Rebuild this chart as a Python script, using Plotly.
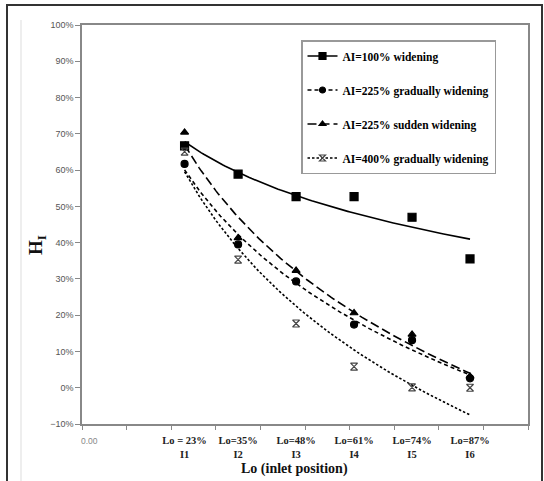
import numpy as np
import plotly.graph_objects as go

# ---- data ----
lo = [0.23, 0.35, 0.48, 0.61, 0.74, 0.87]
tick_text = ["Lo = 23%<br>I1", "Lo=35%<br>I2", "Lo=48%<br>I3",
             "Lo=61%<br>I4", "Lo=74%<br>I5", "Lo=87%<br>I6"]
ai100 = [0.667, 0.589, 0.527, 0.527, 0.470, 0.355]
ai225_grad = [0.617, 0.395, 0.293, 0.174, 0.131, 0.026]
ai225_sudden = [0.704, 0.413, 0.323, 0.206, 0.147, 0.031]
ai400_grad = [0.651, 0.353, 0.177, 0.058, 0.001, 0.000]

series = [
    ("AI=100% widening", ai100, "square", "solid", "black", 8),
    ("AI=225% gradually widening", ai225_grad, "circle", "4px,3px", "black", 7),
    ("AI=225% sudden widening", ai225_sudden, "triangle-up", "9px,4px", "black", 7),
    ("AI=400% gradually widening", ai400_grad, "hourglass-open", "2.5px,2px", "#444", 7),
]

serif = "Liberation Serif, Times New Roman, serif"
sans = "Liberation Sans, Arial, sans-serif"

fig = go.Figure()
xs = np.linspace(min(lo), max(lo), 120)
for i, (name, vals, sym, dash, col, ms) in enumerate(series):
    # logarithmic trendline fitted to the series (like Excel)
    a, b = np.polyfit(np.log(lo), vals, 1)
    fig.add_trace(go.Scatter(x=xs, y=a * np.log(xs) + b, mode="lines",
                             line=dict(color="black", width=1.6, dash=dash),
                             showlegend=False, hoverinfo="skip"))
    fig.add_trace(go.Scatter(x=lo, y=vals, mode="markers",
                             marker=dict(symbol=sym, size=ms, color=col,
                                         line=dict(color=col, width=1.2)),
                             showlegend=False))
    # legend entry
    fig.add_trace(go.Scatter(x=[None], y=[None], mode="lines+markers", name=name,
                             legendgroup=f"g{i}",
                             line=dict(color="black", width=1.6, dash=dash),
                             marker=dict(symbol=sym, size=ms - 1, color=col,
                                         line=dict(color=col, width=1.2))))

L, T, R, B = 82, 25, 528, 424      # plot area in window pixels
W, H = 544, 481                    # window
pw, ph = R - L, B - T

def px(x):
    return (x - L) / pw

def py(y):
    return 1 - (y - T) / ph

fig.update_layout(
    width=W, height=H,
    margin=dict(l=L, r=W - R, t=T, b=H - B, pad=0),
    paper_bgcolor="white", plot_bgcolor="white",
    showlegend=True,
    legend=dict(x=px(301), y=py(40), xanchor="left", yanchor="top",
                bgcolor="white", bordercolor="#999", borderwidth=1.5,
                font=dict(family=serif, size=11.5, color="black", weight="bold"),
                tracegroupgap=15, itemwidth=30),
    xaxis=dict(range=[0, 1.0], tickvals=lo, ticktext=tick_text,
               showgrid=False, zeroline=False,
               showline=True, linecolor="#888", linewidth=1.5, mirror=True,
               ticks="outside", ticklen=0, ticklabelstandoff=6,
               tickfont=dict(family=serif, size=10.5, color="#222", weight="bold"),
               minor=dict(ticks="outside", ticklen=4, tickcolor="#888",
                          dtick=0.1, tick0=0, showgrid=False)),
    yaxis=dict(range=[-0.1, 1.0], dtick=0.1, tick0=0, tickformat=".0%",
               showgrid=False, zeroline=False,
               showline=True, linecolor="#888", linewidth=1.5, mirror=True,
               ticks="outside", ticklen=5, tickcolor="#888",
               tickfont=dict(family=sans, size=9, color="#555")),
    annotations=[
        dict(text="Lo (inlet position)", x=px(294), y=py(469), xref="paper", yref="paper",
             xanchor="center", yanchor="middle", showarrow=False,
             font=dict(family=serif, size=14, color="#111", weight="bold")),
        dict(text="H<sub>I</sub>", x=px(37), y=py(245), xref="paper", yref="paper",
             xanchor="center", yanchor="middle", showarrow=False, textangle=-90,
             font=dict(family=serif, size=19, color="#111", weight="bold")),
        dict(text="0.00", x=px(79), y=py(441), xref="paper", yref="paper",
             xanchor="left", yanchor="middle", showarrow=False,
             font=dict(family=sans, size=8.5, color="#888")),
    ],
    shapes=[
        dict(type="rect", xref="paper", yref="paper",
             x0=px(7), x1=px(542), y0=py(495), y1=py(5),
             line=dict(color="#333", width=2)),
        dict(type="line", xref="paper", yref="paper",
             x0=px(21), x1=px(21), y0=py(495), y1=py(20),
             line=dict(color="#ddd", width=1)),
    ],
)

fig.write_html("out.html",
               config={"displayModeBar": False},
               post_script="document.body.style.margin='0';document.body.style.overflow='hidden';")
